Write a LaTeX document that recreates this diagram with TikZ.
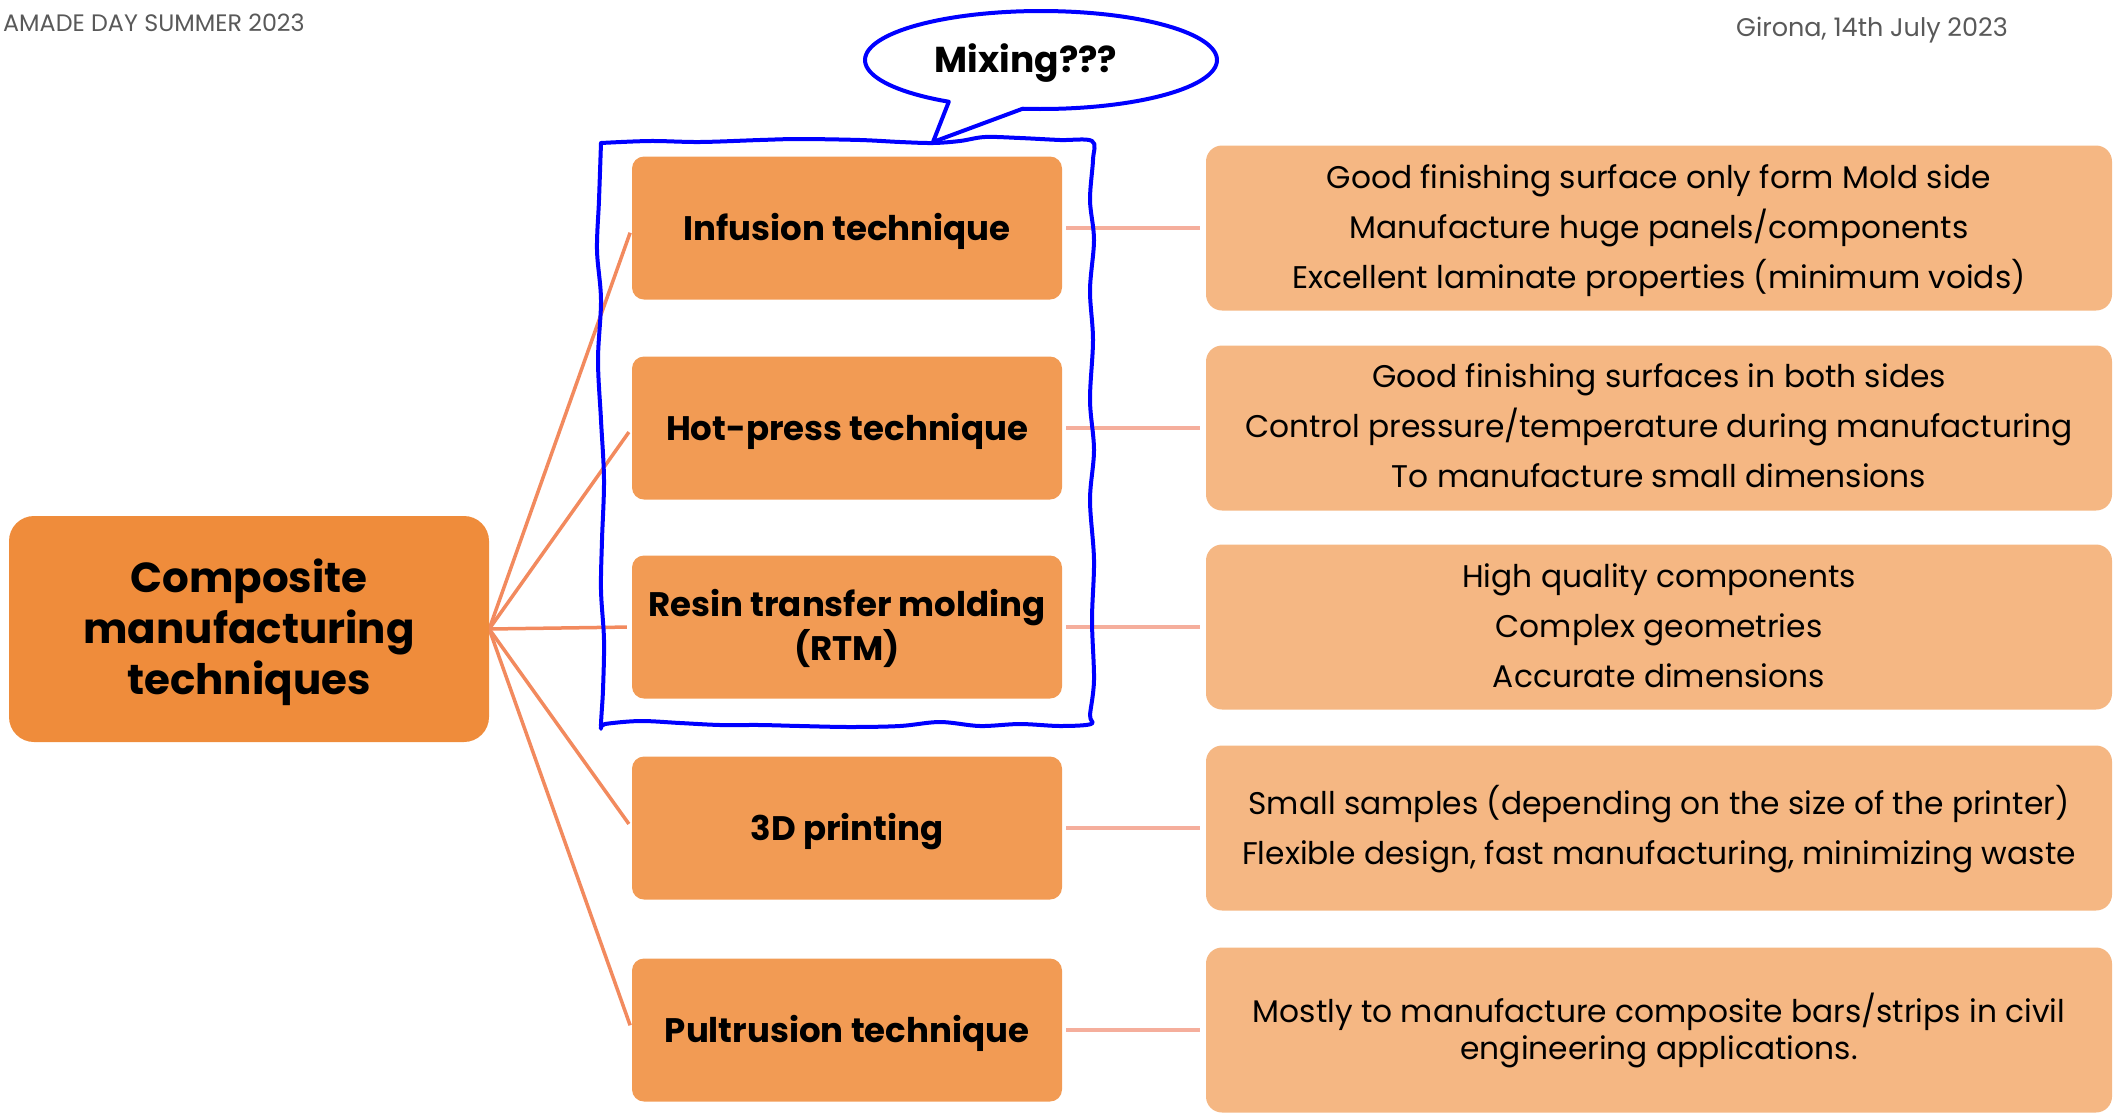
\documentclass[tikz,border=0pt]{standalone}
\usepackage{fontspec}
\setmainfont{Poppins}
\usetikzlibrary{backgrounds}
\definecolor{rootc}{HTML}{EF8C3B}
\definecolor{midc}{HTML}{F29B54}
\definecolor{rightc}{HTML}{F5B783}
\definecolor{lline}{HTML}{F28A5E}
\definecolor{rline}{HTML}{F5AE9C}
\definecolor{headc}{HTML}{595959}
\definecolor{pen}{HTML}{0000FF}
% lower a (multi-line) text block without changing its reported size
\newcommand{\lowtext}[2][4pt]{\raisebox{-#1}[\height][\depth]{\begin{tabular}{@{}c@{}}#2\end{tabular}}}
\begin{document}
\begin{tikzpicture}[x=1pt,y=-1pt,
  rootbox/.style={fill=rootc, rounded corners=25pt, minimum width=480pt, minimum height=226pt, inner sep=0pt, font=\fontsize{42}{51}\selectfont\bfseries},
  midbox/.style={fill=midc, rounded corners=12pt, minimum width=430pt, minimum height=143pt, inner sep=0pt, font=\fontsize{34}{42}\selectfont\bfseries},
  rightbox/.style={fill=rightc, rounded corners=16pt, minimum width=906pt, minimum height=165pt, inner sep=0pt, font=\fontsize{31.3}{50}\selectfont},
  leftlink/.style={draw=lline, line width=3.5pt, shorten >=5pt},
  rightlink/.style={draw=rline, line width=4pt, shorten <=4pt, shorten >=6pt},
  header/.style={text=headc, inner sep=0pt},
  penline/.style={draw=pen, line width=4pt, line join=round, line cap=round}
]
\useasboundingbox (0,0) rectangle (2123,1112);

% nodes
\node[rootbox] (root) at (249,629) {\lowtext[4pt]{Composite\\manufacturing\\techniques}};
\node[midbox] (m1) at (847,228) {\lowtext[4pt]{Infusion technique}};
\node[midbox] (m2) at (847,428) {\lowtext[4pt]{Hot-press technique}};
\node[midbox] (m3) at (847,627) {\lowtext[3pt]{Resin transfer molding\\(RTM)}};
\node[midbox] (m4) at (847,828) {\lowtext[4pt]{3D printing}};
\node[midbox] (m5) at (847,1030) {\lowtext[4pt]{Pultrusion technique}};

\node[rightbox] (r1) at (1659,228) {\lowtext[0pt]{Good finishing surface only form Mold side\\Manufacture huge panels/components\\Excellent laminate properties (minimum voids)}};
\node[rightbox] (r2) at (1659,428) {\lowtext[-1pt]{Good finishing surfaces in both sides\\Control pressure/temperature during manufacturing\\To manufacture small dimensions}};
\node[rightbox] (r3) at (1659,627) {\lowtext[0pt]{High quality components\\Complex geometries\\Accurate dimensions}};
\node[rightbox] (r4) at (1659,828) {\lowtext[1pt]{Small samples (depending on the size of the printer)\\Flexible design, fast manufacturing, minimizing waste}};
\node[rightbox, font=\fontsize{31.3}{37}\selectfont] (r5) at (1659,1030) {\lowtext[2pt]{Mostly to manufacture composite bars/strips in civil\\engineering applications.}};

% connectors (behind boxes)
\begin{scope}[on background layer]
\foreach \i in {1,...,5} {
  \draw[leftlink] (root.east) -- (m\i.west);
  \draw[rightlink] (m\i.east) -- (r\i.west);
}
\end{scope}

% header texts
\node[header, anchor=west, font=\fontsize{23.8}{28}\selectfont] (hl) at (3,23) {AMADE DAY SUMMER 2023};
\node[header, font=\fontsize{25.5}{30}\selectfont] (hr) at (1872,30) {Girona, 14th July 2023};

% hand-drawn blue frame
\draw[penline] plot[smooth, tension=0.55] coordinates {
  (601,143) (650,141) (700,142) (760,140) (800,139) (860,140) (900,142) (933,143)
  (960,141) (985,137) (1020,138) (1060,140) (1092,141)
  (1093,160) (1090,200) (1094,240) (1090,290) (1093,340) (1090,400) (1094,450)
  (1090,500) (1094,560) (1092,620) (1094,680) (1090,715) (1091,724)
  (1060,726) (1020,724) (980,726) (940,722) (900,726) (850,727) (800,726)
  (760,725) (720,725) (680,723) (640,721) (605,724) (601,727)
  (603,690) (604,640) (601,590) (602,540) (604,480) (601,420) (598,360)
  (601,300) (597,250) (599,200) (601,143)};

% callout
\draw[penline, fill=white] plot[domain=-238.4:96, samples=120] ({1041+176*cos(\x)},{60+49*sin(\x)}) -- (933,142) -- cycle;
\node[font=\fontsize{36}{40}\selectfont\bfseries, inner sep=0pt] (mix) at (1026,60) {\lowtext[4pt]{Mixing???}};
\end{tikzpicture}
\end{document}
